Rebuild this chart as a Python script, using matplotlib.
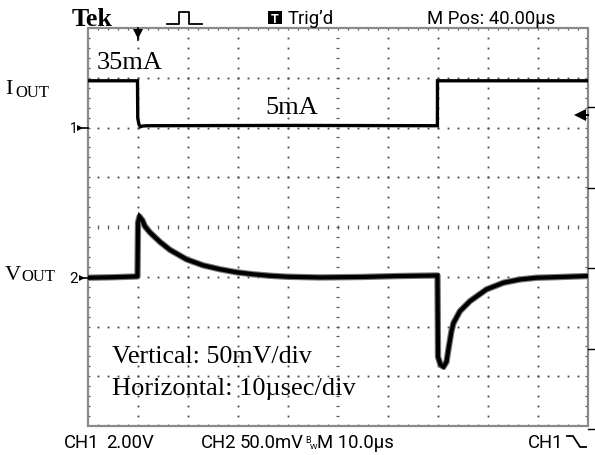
import matplotlib
matplotlib.use('Agg')
import matplotlib.pyplot as plt
from matplotlib.collections import LineCollection
from matplotlib.patches import Rectangle

# Channel 1: output current (mA) vs time (us), 10 us/div
i_time = [0, 10.0, 10.05, 10.3, 10.6, 11.0, 12.0, 40.0, 69.98, 70.0, 100]
i_ma = [35, 35, 10, 5.8, 4.3, 4.8, 5, 5.2, 5, 35, 35]

# Channel 2: output-voltage deviation (mV) vs time (us), 50 mV/div
v_time = [0, 5, 9.9, 10.0, 10.1, 10.4, 11.0, 11.5, 12.5, 14.5, 16.5, 19.8, 23.1,
          26.5, 29.8, 33.1, 36.5, 40.0, 46.5, 55.0, 62.0, 69.9, 70.0, 70.1,
          70.6, 71.2, 71.8, 72.2, 72.8, 73.2, 74.5, 76.5, 79.8, 83.2, 86.5,
          89.8, 93.1, 100]
v_mv = [-0.5, 0, 0.8, 1, 55, 61, 57, 51, 45, 35.5, 27.5, 18, 12,
        8, 5, 3.0, 1.5, 0.5, -0.2, 0.3, 1.2, 1.8, 1.8, -80,
        -88, -90, -85, -72, -54, -46, -34, -24, -12.2, -5.5, -2.2,
        -0.5, 0, 1.2]

labels_top = ["Tek", "Trig\u2019d", "M Pos: 40.00\u00b5s"]
labels_bottom = ["CH1", "2.00V", "CH2", "50.0mV", "M 10.0\u00b5s", "CH1"]
annot_levels = ["35mA", "5mA"]
annot_scale = ["Vertical: 50mV/div", "Horizontal: 10\u00b5sec/div"]

# scope settings
CH1_MA_PER_DIV = 33.2
CH1_OFFSET_DIV = 1.885
CH2_MV_PER_DIV = 50.0
CH2_OFFSET_DIV = -1.01

# ---------------- figure ----------------
W, H = 595, 456
fig = plt.figure(figsize=(W / 100, H / 100), dpi=100)
fig.patch.set_facecolor('white')
renderer = fig.canvas.get_renderer()

L, R, T, B = 87.5, 587.5, 29, 427
ax = fig.add_axes([L / W, 1 - B / H, (R - L) / W, (B - T) / H])
ax.set_xlim(0, 100)
ax.set_ylim(-4, 4)
ax.axis('off')

# graticule dots
dot_x, dot_y = [], []
for i in range(1, 10):
    if i == 5:
        continue
    for k in range(1, 40):
        dot_x.append(i * 10)
        dot_y.append(-4 + k * 0.2)
for j in range(-3, 4):
    if j == 0:
        continue
    for k in range(1, 50):
        dot_x.append(k * 2)
        dot_y.append(j)
ax.plot(dot_x, dot_y, ls='none', marker='s', ms=1.3, mew=0, color='#444444', zorder=1)

# center cross ticks and border ticks
segs = []
for k in range(1, 40):
    yy = -4 + k * 0.2
    segs.append([(50 - 0.35, yy), (50 + 0.35, yy)])
    segs.append([(0, yy), (0.5, yy)])
    segs.append([(100, yy), (99.5, yy)])
for k in range(1, 50):
    xx = k * 2
    segs.append([(xx, -0.045), (xx, 0.045)])
    segs.append([(xx, 4), (xx, 3.95)])
    segs.append([(xx, -4), (xx, -3.95)])
ax.add_collection(LineCollection(segs, colors='#555555', linewidths=0.9, zorder=1))

# border
ax.add_patch(Rectangle((0, -4), 100, 8, fill=False, ec='#8a8a8a', lw=1.6,
                       zorder=2, clip_on=False))

# traces
i_div = [CH1_OFFSET_DIV + v / CH1_MA_PER_DIV for v in i_ma]
v_div = [CH2_OFFSET_DIV + v / CH2_MV_PER_DIV for v in v_mv]
ax.plot(i_time, i_div, color='black', lw=2.4, solid_joinstyle='miter', zorder=4)
ax.plot(v_time, v_div, color='#777777', lw=4.6, zorder=3)
ax.plot(v_time, v_div, color='black', lw=3.0, solid_joinstyle='miter', zorder=4)

# ---------------- text helpers ----------------
def px(x, y):
    return x / W, 1 - y / H

SANS = ['Liberation Sans Narrow', 'Roboto', 'DejaVu Sans']
SERIF = ['Liberation Serif', 'DejaVu Serif']

def ftext(x, y, s, size, family=SANS, **kw):
    return fig.text(*px(x, y), s, fontsize=size, family=family, va='baseline', **kw)

def fit_text(x, y, s, width, family=SANS, max_size=16, **kw):
    t = ftext(x, y, s, 10, family=family, **kw)
    w = t.get_window_extent(renderer).width
    t.set_fontsize(min(max_size, 10 * width / w))
    return t

def right_edge(t):
    return t.get_window_extent(renderer).x1

# top line
fit_text(72, 26.5, labels_top[0], 41, family=SERIF, max_size=22, weight='bold')
fig.add_artist(plt.Line2D([167 / W, 179 / W, 179 / W, 189 / W, 189 / W, 202 / W],
                          [1 - 25 / H, 1 - 25 / H, 1 - 13 / H, 1 - 13 / H, 1 - 25 / H, 1 - 25 / H],
                          color='black', lw=1.3))
fig.add_artist(Rectangle(px(268, 25), 14 / W, 13 / H, color='black', lw=0))
fig.text(*px(275, 23), "T", fontsize=9, family=SANS, weight='bold', color='white',
         ha='center', va='baseline')
mpos = fit_text(427, 23.5, labels_top[2], 128)
SCOPE_SIZE = mpos.get_fontsize()
ftext(288, 23.5, labels_top[1], SCOPE_SIZE)

# trigger position marker (top)
fig.add_artist(plt.Line2D([137.5 / W, 137.5 / W], [1 - 29 / H, 1 - 41 / H], color='black', lw=1.2))
fig.add_artist(plt.Line2D([137.5 / W], [1 - 35 / H], marker='v', ms=7, color='black', mew=0))

# bottom line
BY = 448
ftext(64, BY, labels_bottom[0], SCOPE_SIZE)
ftext(106, BY, labels_bottom[1], SCOPE_SIZE)
ftext(201, BY, labels_bottom[2], SCOPE_SIZE)
t_mv = ftext(240, BY, labels_bottom[3], SCOPE_SIZE)
xb = right_edge(t_mv) + 1
ftext(xb, BY - 5, "B", 6.5)
ftext(xb + 5, BY + 1, "W", 6)
ftext(xb + 12, BY, labels_bottom[4], SCOPE_SIZE)
ftext(528, BY, labels_bottom[5], SCOPE_SIZE)
fig.add_artist(plt.Line2D([567 / W, 573 / W, 580 / W, 586 / W],
                          [1 - 437 / H, 1 - 437 / H, 1 - 448 / H, 1 - 448 / H],
                          color='black', lw=1.3))

# channel ground markers
ftext(70, 133, "1", 10)
fig.add_artist(plt.Line2D([80 / W], [1 - 129 / H], marker='>', ms=5, color='black', mew=0))
fig.add_artist(plt.Line2D([80 / W, 88 / W], [1 - 129 / H, 1 - 129 / H], color='black', lw=1.2))
ftext(69, 283, "2", 11)
fig.add_artist(plt.Line2D([82 / W], [1 - 278.5 / H], marker='>', ms=5, color='black', mew=0))
fig.add_artist(plt.Line2D([82 / W, 88 / W], [1 - 278.5 / H, 1 - 278.5 / H], color='black', lw=1.2))

# trigger level marker (right)
fig.add_artist(plt.Line2D([580 / W], [1 - 116 / H], marker='<', ms=8, color='black', mew=0))
fig.add_artist(plt.Line2D([580 / W, 588 / W], [1 - 116 / H, 1 - 116 / H], color='black', lw=1.5))
# menu ticks outside right border
for yy in [108, 189, 269, 350, 430]:
    fig.add_artist(plt.Line2D([588 / W, 595 / W], [1 - yy / H, 1 - yy / H], color='black', lw=1.0))

# channel names (serif)
ftext(5, 94, "I", 16, family=SERIF)
ftext(15, 97, "OUT", 12, family=SERIF)
ftext(5, 280, "V", 16, family=SERIF)
ftext(21, 281, "OUT", 12, family=SERIF)

# annotations
ftext(97, 69, annot_levels[0], 19, family=SERIF)
ftext(265, 114, annot_levels[1], 19, family=SERIF)
ftext(112, 363, annot_scale[0], 18.7, family=SERIF)
ftext(112, 395, annot_scale[1], 19, family=SERIF)

fig.savefig('out.png', dpi=100, facecolor='white')
